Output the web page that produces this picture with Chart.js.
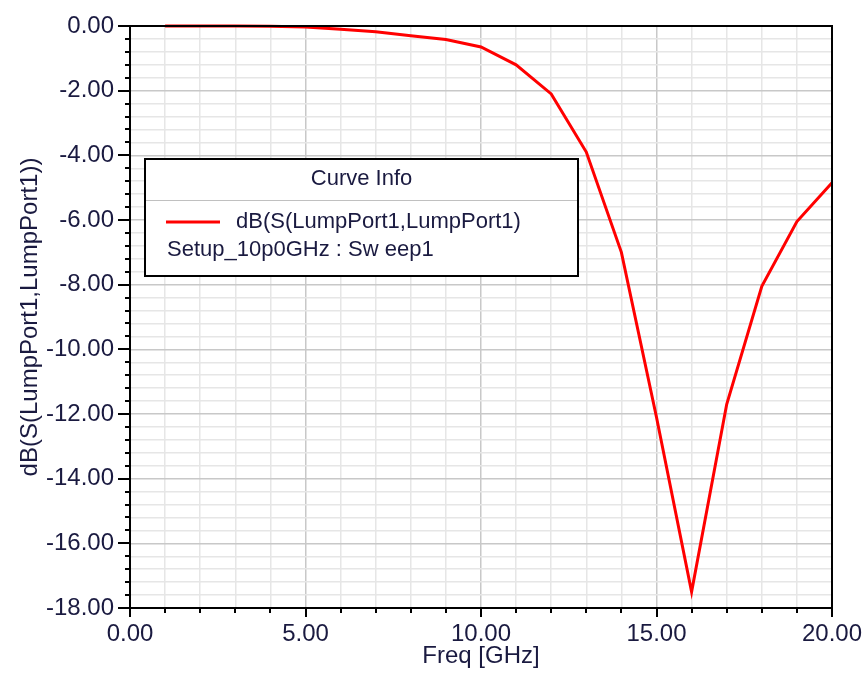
<!DOCTYPE html>
<html>
<head>
<meta charset="utf-8">
<script src="https://cdn.jsdelivr.net/npm/chart.js@4"></script>
<style>
  html, body { margin: 0; padding: 0; background: #fff; }
  #wrap { width: 866px; height: 673px; }
</style>
</head>
<body>
<div id="wrap"><canvas id="myChart" width="866" height="673"></canvas></div>
<script>
// data (1 GHz steps)
const freqGHz = [1, 2, 3, 4, 5, 6, 7, 8, 9, 10, 11, 12, 13, 14, 15, 16, 17, 18, 19, 20];
const s11dB = [0.00, 0.00, 0.00, -0.01, -0.03, -0.10, -0.18, -0.30, -0.42, -0.65,
               -1.20, -2.10, -3.90, -7.00, -12.10, -17.50, -11.70, -8.05, -6.05, -4.85];
const xTicks = [0, 5, 10, 15, 20];
const yTicks = [0, -2, -4, -6, -8, -10, -12, -14, -16, -18];

const curveName = "dB(S(LumpPort1,LumpPort1)";
const sweepName = "Setup_10p0GHz : Sw eep1";
const textColor = "#1a1a40";

function isMajor(v, list) {
    return list.some(t => Math.abs(t - v) < 1e-6);
}

// frame, ticks and the "Curve Info" box
const hfssDecor = {
    id: 'hfssDecor',
    afterDraw(chart) {
        const c = chart.ctx;
        const a = chart.chartArea;
        const xs = chart.scales.x;
        const ys = chart.scales.y;
        c.save();
        c.strokeStyle = '#000';
        c.lineWidth = 2;
        c.strokeRect(a.left, a.top, a.right - a.left, a.bottom - a.top);

        c.lineWidth = 2;
        c.beginPath();
        ys.ticks.forEach(t => {
            const y = Math.round(ys.getPixelForValue(t.value));
            const len = isMajor(t.value, yTicks) ? 12 : 5;
            c.moveTo(a.left, y);
            c.lineTo(a.left - len, y);
        });
        xs.ticks.forEach(t => {
            const x = Math.round(xs.getPixelForValue(t.value));
            const len = isMajor(t.value, xTicks) ? 9 : 5;
            c.moveTo(x, a.bottom);
            c.lineTo(x, a.bottom + len);
        });
        c.stroke();

        // legend box
        const bx = 145, by = 159, bw = 433, bh = 117;
        c.fillStyle = '#fff';
        c.fillRect(bx, by, bw, bh);
        c.strokeStyle = '#c0c0c0';
        c.lineWidth = 1;
        c.beginPath();
        c.moveTo(bx, 200.5);
        c.lineTo(bx + bw, 200.5);
        c.stroke();
        c.strokeStyle = '#000';
        c.lineWidth = 2;
        c.strokeRect(bx, by, bw, bh);

        c.font = '22px "Liberation Sans", Arial, sans-serif';
        c.fillStyle = textColor;
        c.textBaseline = 'middle';
        c.textAlign = 'center';
        c.fillText('Curve Info', bx + bw / 2, 179);
        c.textAlign = 'left';
        c.fillText(chart.data.datasets[0].label, 236, 222);
        c.fillText(sweepName, 167, 250);

        c.strokeStyle = '#ff0000';
        c.lineWidth = 3;
        c.beginPath();
        c.moveTo(166, 222);
        c.lineTo(220, 222);
        c.stroke();
        c.restore();
    }
};

const ctx = document.getElementById('myChart').getContext('2d');
const myChart = new Chart(ctx, {
    type: 'line',
    data: {
        datasets: [{
            label: curveName,
            data: freqGHz.map((f, i) => ({ x: f, y: s11dB[i] })),
            borderColor: '#ff0000',
            borderWidth: 3,
            pointRadius: 0,
            tension: 0,
            clip: 4
        }]
    },
    options: {
        responsive: false,
        animation: false,
        layout: { padding: { top: 26, right: 34, left: 0, bottom: 0 } },
        plugins: {
            legend: { display: false },
            tooltip: { enabled: false }
        },
        scales: {
            x: {
                type: 'linear',
                min: 0,
                max: 20,
                afterFit: s => {
                    s.height = 65;
                    s.paddingLeft = 0;
                    s.paddingRight = 0;
                },
                border: { display: false },
                grid: {
                    drawTicks: false,
                    color: c => isMajor(c.tick.value, xTicks) ? '#c8c8c8' : '#e6e6e6',
                    lineWidth: 1.5
                },
                ticks: {
                    stepSize: 1,
                    autoSkip: false,
                    maxRotation: 0,
                    padding: 12,
                    color: textColor,
                    font: { family: '"Liberation Sans", Arial, sans-serif', size: 24 },
                    callback: v => isMajor(v, xTicks) ? v.toFixed(2) : ''
                },
                title: {
                    display: true,
                    text: 'Freq [GHz]',
                    color: textColor,
                    font: { family: '"Liberation Sans", Arial, sans-serif', size: 24 },
                    padding: { top: 0, bottom: 2 }
                }
            },
            y: {
                min: -18,
                max: 0,
                afterFit: s => {
                    s.width = 130;
                    s.paddingTop = 0;
                    s.paddingBottom = 0;
                },
                border: { display: false },
                grid: {
                    drawTicks: false,
                    color: c => isMajor(c.tick.value, yTicks) ? '#c8c8c8' : '#e6e6e6',
                    lineWidth: 1.5
                },
                ticks: {
                    stepSize: 0.4,
                    autoSkip: false,
                    padding: 16,
                    color: textColor,
                    font: { family: '"Liberation Sans", Arial, sans-serif', size: 24 },
                    callback: v => isMajor(v, yTicks) ? v.toFixed(2) : ''
                },
                title: {
                    display: true,
                    text: 'dB(S(LumpPort1,LumpPort1))',
                    color: textColor,
                    font: { family: '"Liberation Sans", Arial, sans-serif', size: 24 },
                    padding: { top: 16, bottom: 0 }
                }
            }
        }
    },
    plugins: [hfssDecor]
});
</script>
</body>
</html>
